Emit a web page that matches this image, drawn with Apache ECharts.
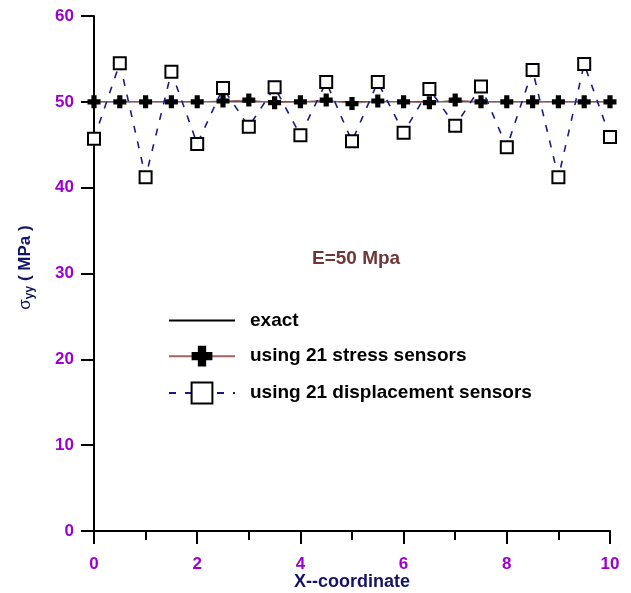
<!DOCTYPE html>
<html>
<head>
<meta charset="utf-8">
<script src="https://cdn.jsdelivr.net/npm/echarts@6/dist/echarts.min.js"></script>
<style>
  html, body { margin: 0; padding: 0; background: #fff; }
  #chart { width: 631px; height: 593px; }
</style>
</head>
<body>
<div id="chart"></div>
<script>
// Sensor positions along the beam
const xPositions = [0, 0.5, 1, 1.5, 2, 2.5, 3, 3.5, 4, 4.5, 5, 5.5, 6, 6.5, 7, 7.5, 8, 8.5, 9, 9.5, 10];

// Analytical stress (constant)
const exactX = [0, 10];
const exactY = [50, 50];

// Recovered stress using 21 stress sensors
const stressSensorY = [50.0, 50.0, 50.0, 50.0, 50.0, 50.1, 50.2, 49.9, 50.0, 50.2, 49.8,
                       50.1, 50.0, 49.9, 50.2, 50.0, 50.0, 50.0, 50.0, 50.0, 50.0];

// Recovered stress using 21 displacement sensors
const dispSensorY = [45.7, 54.5, 41.2, 53.5, 45.1, 51.6, 47.1, 51.7, 46.1, 52.3, 45.4,
                     52.3, 46.4, 51.5, 47.2, 51.8, 44.7, 53.7, 41.2, 54.4, 45.9];

const seriesNames = ['exact', 'using 21 stress sensors', 'using 21 displacement sensors'];
const xTicks = { min: 0, max: 10, interval: 2 };
const yTicks = { min: 0, max: 60, interval: 10 };

const pair = (xs, ys) => xs.map((x, i) => [x, ys[i]]);

const plusPath = 'path://M3,0 H7 V3 H10 V7 H7 V10 H3 V7 H0 V3 H3 Z';
const FONT = 'Liberation Sans, Arial, sans-serif';
const NAVY = '#141466';

const tickLabel = { color: '#9b00d0', fontWeight: 'bold', fontSize: 17, fontFamily: FONT };

const chart = echarts.init(document.getElementById('chart'), null, { renderer: 'canvas' });

chart.setOption({
  animation: false,
  backgroundColor: '#ffffff',
  grid: { left: 94, right: 21, top: 16, bottom: 62, containLabel: false, outerBoundsMode: 'none' },
  title: {
    text: 'E=50 Mpa',
    left: 307, top: 244,
    textStyle: { color: '#6e3636', fontWeight: 'bold', fontSize: 19, fontFamily: FONT }
  },
  legend: {
    orient: 'vertical',
    left: 163, top: 305,
    itemWidth: 66, itemHeight: 26, itemGap: 15,
    data: seriesNames,
    textStyle: { color: '#000', fontWeight: 'bold', fontSize: 19, fontFamily: FONT, padding: [0, 0, 0, 10] }
  },
  xAxis: {
    type: 'value',
    min: xTicks.min, max: xTicks.max, interval: xTicks.interval,
    name: 'X--coordinate',
    nameLocation: 'middle', nameGap: 42, nameMoveOverlap: false,
    nameTextStyle: { color: NAVY, fontWeight: 'bold', fontSize: 18, fontFamily: FONT },
    axisLine: { show: true, lineStyle: { color: '#000', width: 2 } },
    axisTick: { show: true, length: 13, lineStyle: { color: '#000', width: 2 } },
    minorTick: { show: true, splitNumber: 2, length: 9, lineStyle: { color: '#000', width: 2 } },
    axisLabel: Object.assign({ margin: 25 }, tickLabel),
    splitLine: { show: false }
  },
  yAxis: {
    type: 'value',
    min: yTicks.min, max: yTicks.max, interval: yTicks.interval,
    name: '{s|σ}{sub|yy}{t| ( MPa )}',
    nameLocation: 'middle', nameGap: 58, nameRotate: 90, nameMoveOverlap: false,
    nameTextStyle: {
      padding: [0, 0, 0, 12],
      rich: {
        s: { color: NAVY, fontSize: 17, fontFamily: FONT, verticalAlign: 'top', lineHeight: 22, height: 22 },
        sub: { color: NAVY, fontSize: 12, fontWeight: 'bold', fontFamily: FONT, verticalAlign: 'bottom', lineHeight: 12, padding: [10, 0, 0, 0] },
        t: { color: NAVY, fontSize: 17, fontWeight: 'bold', fontFamily: FONT, verticalAlign: 'top', lineHeight: 22, height: 22 }
      }
    },
    axisLine: { show: true, lineStyle: { color: '#000', width: 2 } },
    axisTick: { show: true, length: 13, lineStyle: { color: '#000', width: 2 } },
    axisLabel: Object.assign({ margin: 20 }, tickLabel),
    splitLine: { show: false }
  },
  series: [
    {
      name: seriesNames[0],
      type: 'line',
      data: pair(exactX, exactY),
      symbol: 'none',
      lineStyle: { color: '#000', width: 1 },
      itemStyle: { color: 'rgba(0,0,0,0)' },
      z: 2
    },
    {
      name: seriesNames[1],
      type: 'line',
      data: pair(xPositions, stressSensorY),
      symbol: plusPath,
      symbolSize: 13,
      showAllSymbol: true,
      lineStyle: { color: '#a06464', width: 1 },
      itemStyle: { color: '#000', borderWidth: 0 },
      z: 3
    },
    {
      name: seriesNames[2],
      type: 'line',
      data: pair(xPositions, dispSensorY),
      symbol: 'rect',
      symbolSize: 12,
      showAllSymbol: true,
      lineStyle: { color: '#1a1a80', width: 1.6, type: [7, 9] },
      itemStyle: { color: '#fff', borderColor: '#000', borderWidth: 2 },
      z: 4
    }
  ]
});
</script>
</body>
</html>
